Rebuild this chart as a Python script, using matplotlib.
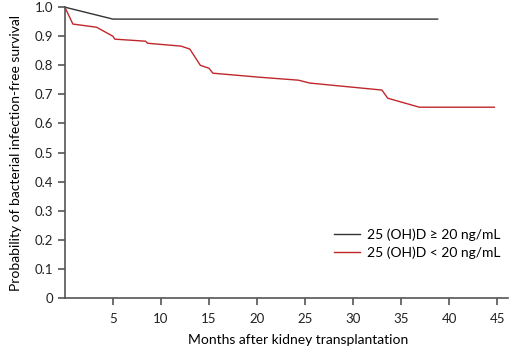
import matplotlib
matplotlib.use("Agg")
import matplotlib.pyplot as plt

# Kaplan-Meier style curves
high_months = [0, 5.0, 38.8]
high_surv = [1.0, 0.959, 0.959]

low_months = [0, 0.83, 3.3, 5.0, 5.2, 8.4, 8.6, 12.1, 13.0, 14.1, 15.0, 15.4,
              20.3, 24.3, 25.5, 33.0, 33.6, 36.9, 44.7]
low_surv = [1.0, 0.942, 0.931, 0.900, 0.890, 0.883, 0.876, 0.866, 0.856, 0.800,
            0.790, 0.773, 0.759, 0.749, 0.739, 0.715, 0.687, 0.656, 0.656]

x_ticks = [5, 10, 15, 20, 25, 30, 35, 40, 45]
y_ticks = [0, 0.1, 0.2, 0.3, 0.4, 0.5, 0.6, 0.7, 0.8, 0.9, 1.0]
y_labels = ["0", "0.1", "0.2", "0.3", "0.4", "0.5", "0.6", "0.7", "0.8", "0.9", "1.0"]

plt.rcParams['font.family'] = ['Lato', 'DejaVu Sans']

fig = plt.figure(figsize=(5.15, 3.59), dpi=100)
ax = fig.add_axes([0.126, 0.170, 0.86, 0.810])

axis_col = '#555555'
ax.plot(high_months, high_surv, color='#333333', lw=1.0, clip_on=False,
        label='25 (OH)D ≥ 20 ng/mL')
ax.plot(low_months, low_surv, color='#c0272d', lw=1.0, clip_on=False,
        label='25 (OH)D < 20 ng/mL')

ax.set_xlim(0, 46.1)
ax.set_ylim(0, 1.0)
ax.set_xticks(x_ticks)
ax.set_yticks(y_ticks)
ax.set_yticklabels(y_labels)
for s in ['top', 'right']:
    ax.spines[s].set_visible(False)
for s in ['left', 'bottom']:
    ax.spines[s].set_color(axis_col)
    ax.spines[s].set_linewidth(1.2)
ax.tick_params(axis='both', colors='#222222', labelsize=9.5, width=1.2, length=5)
ax.tick_params(axis='both', color=axis_col)
ax.tick_params(axis='x', pad=6)

ax.set_xlabel('Months after kidney transplantation', fontsize=10, labelpad=7)
ax.xaxis.set_label_coords(0.526, -0.125)
ax.set_ylabel('Probability of bacterial infection-free survival', fontsize=10, labelpad=9)

ax.legend(loc='lower right', bbox_to_anchor=(1.012, 0.09), frameon=False,
          fontsize=10, handlelength=1.9, handletextpad=0.5, labelspacing=0.45)

fig.savefig('out.png', dpi=100)
